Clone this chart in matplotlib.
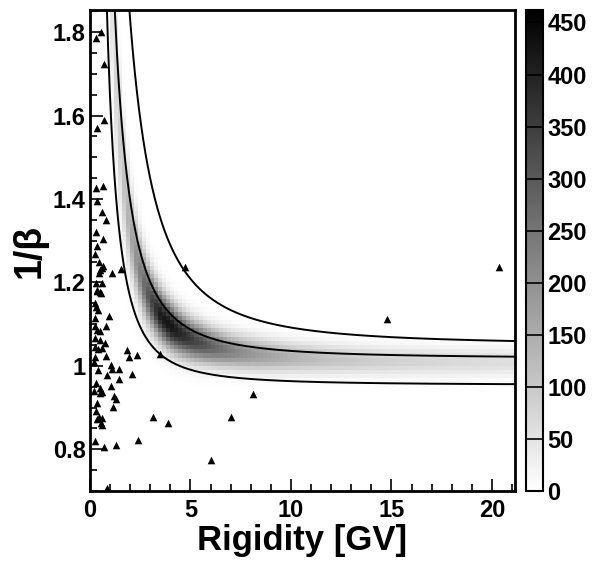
import numpy as np
import matplotlib
matplotlib.use("Agg")
import matplotlib.pyplot as plt

plt.rcParams['font.family'] = ['Liberation Sans', 'DejaVu Sans']
plt.rcParams['font.weight'] = 'bold'

# band of the 2D histogram
band_rig = [0.8, 1.0, 1.2, 1.6, 2.0, 2.5, 3.0, 3.5, 4.0, 5.0, 6.0, 7.0, 8.0, 10.0, 12.0, 15.0, 18.0, 21.2]
band_peak = [10, 45, 70, 100, 150, 230, 320, 410, 430, 360, 290, 230, 190, 140, 110, 85, 70, 60]
band_width = [0.19, 0.16, 0.13, 0.095, 0.072, 0.056, 0.047, 0.041, 0.038, 0.033, 0.030, 0.028, 0.027, 0.025, 0.024, 0.023, 0.023, 0.023]
band_scale, band_mass = 1.005, 1.75

# selection curves: 1/beta = scale * sqrt(1 + (mass/R)^2)
curve_scale = [0.954, 1.018, 1.05]
curve_mass = [1.40, 1.876, 2.85]

# single events (triangles)
ev_rig = [0.53, 0.30, 0.71, 0.71, 0.33, 0.28, 0.66, 0.36, 0.58, 0.80, 0.28, 0.66, 0.36, 0.25,
          0.61, 0.50, 0.45, 1.11, 1.53, 4.73, 0.28, 0.58, 0.36, 0.50, 0.25, 0.53, 0.66,
          0.33, 0.25, 0.41, 0.96, 0.25, 0.80, 0.33, 0.50, 0.25, 0.50, 0.75, 0.25, 0.41,
          0.58, 1.82, 0.80, 0.25, 1.96, 2.35, 3.48, 1.03, 1.11, 1.46, 0.86, 1.44, 2.11,
          0.30, 1.03, 0.50, 0.58, 0.50, 1.19, 1.29, 0.36, 1.13, 0.28, 0.45, 0.58, 0.33,
          0.53, 0.61, 3.15, 3.90, 7.01, 8.13, 0.25, 0.70, 1.28, 2.40, 6.00, 0.86, 14.79,
          20.35, 0.20, 0.40, 0.22, 0.30, 0.45]
ev_beta = [1.800, 1.786, 1.724, 1.590, 1.569, 1.426, 1.432, 1.396, 1.368, 1.350, 1.320, 1.305,
           1.287, 1.267, 1.235, 1.230, 1.223, 1.223, 1.233, 1.237, 1.199, 1.199, 1.181, 1.176,
           1.151, 1.175, 1.239, 1.179, 1.115, 1.135, 1.120, 1.096, 1.096, 1.087, 1.083, 1.067,
           1.063, 1.055, 1.045, 1.040, 1.043, 1.039, 1.024, 1.021, 1.021, 1.027, 1.029, 1.002,
           0.992, 0.992, 0.978, 0.969, 0.980, 0.958, 0.952, 0.946, 0.938, 0.934, 0.928, 0.920,
           0.910, 0.902, 0.892, 0.878, 0.874, 0.872, 0.862, 0.858, 0.878, 0.863, 0.878, 0.932,
           0.819, 0.806, 0.811, 0.822, 0.775, 0.708, 1.1125, 1.237, 1.010, 0.990, 0.940,
           1.140, 1.250]

x_lo, x_hi = 0.0, 21.15
y_lo, y_hi = 0.70, 1.853
z_max = 462

# histogram grid
xe = np.arange(0.0, 21.2 + 1e-9, 0.2)
ye = np.arange(0.70, 1.86 + 1e-9, 0.01)
xc = 0.5 * (xe[:-1] + xe[1:])
yc = 0.5 * (ye[:-1] + ye[1:])
peak = np.interp(xc, band_rig, band_peak, left=0)
width = np.interp(xc, band_rig, band_width)
centre = band_scale * np.sqrt(1 + (band_mass / xc) ** 2)
counts = peak[None, :] * np.exp(-0.5 * ((yc[:, None] - centre[None, :]) / width[None, :]) ** 2)
counts = np.round(counts)
counts = np.ma.masked_less(counts, 1)

fig = plt.figure(figsize=(5.96, 5.61), dpi=100)
ax = fig.add_axes([90 / 596, 70 / 561, 425 / 596, 481 / 561])
mesh = ax.pcolormesh(xe, ye, counts, cmap='gray_r', vmin=0, vmax=z_max, shading='flat')

rr = np.linspace(0.3, x_hi, 800)
for s, m in zip(curve_scale, curve_mass):
    ax.plot(rr, s * np.sqrt(1 + (m / rr) ** 2), color='black', lw=1.4)

ax.scatter(ev_rig, ev_beta, marker='^', s=30, color='black', linewidths=0, zorder=5)

ax.set_xlim(x_lo, x_hi)
ax.set_ylim(y_lo, y_hi)
ax.set_xticks([0, 5, 10, 15, 20])
ax.set_xticks(np.arange(0, 21.1, 1), minor=True)
ax.set_yticks([0.8, 1.0, 1.2, 1.4, 1.6, 1.8])
ax.set_yticklabels(['0.8', '1', '1.2', '1.4', '1.6', '1.8'])
ax.set_yticks(np.arange(0.7, 1.851, 0.05), minor=True)
ax.tick_params(which='both', direction='in', top=False, right=False, labelsize=17, width=1.2)
ax.tick_params(which='major', length=9)
ax.tick_params(which='minor', length=5)
ax.tick_params(axis='x', pad=6)
ax.tick_params(axis='y', pad=3)
for sp in ax.spines.values():
    sp.set_linewidth(2)
ax.set_xlabel('Rigidity [GV]', fontsize=25, fontweight='bold', labelpad=1)
ax.set_ylabel('1/β', fontsize=27, fontweight='bold', labelpad=4)

cax = fig.add_axes([526 / 596, 70 / 561, 17 / 596, 481 / 561])
cb = fig.colorbar(mesh, cax=cax, ticks=np.arange(0, 451, 50))
cb.outline.set_linewidth(1.5)
cax.tick_params(length=0, labelsize=17, pad=3)
for v in np.arange(50, 451, 50):
    cax.axhline(v, color='black', lw=1.2)

fig.savefig('out.png', dpi=100)
